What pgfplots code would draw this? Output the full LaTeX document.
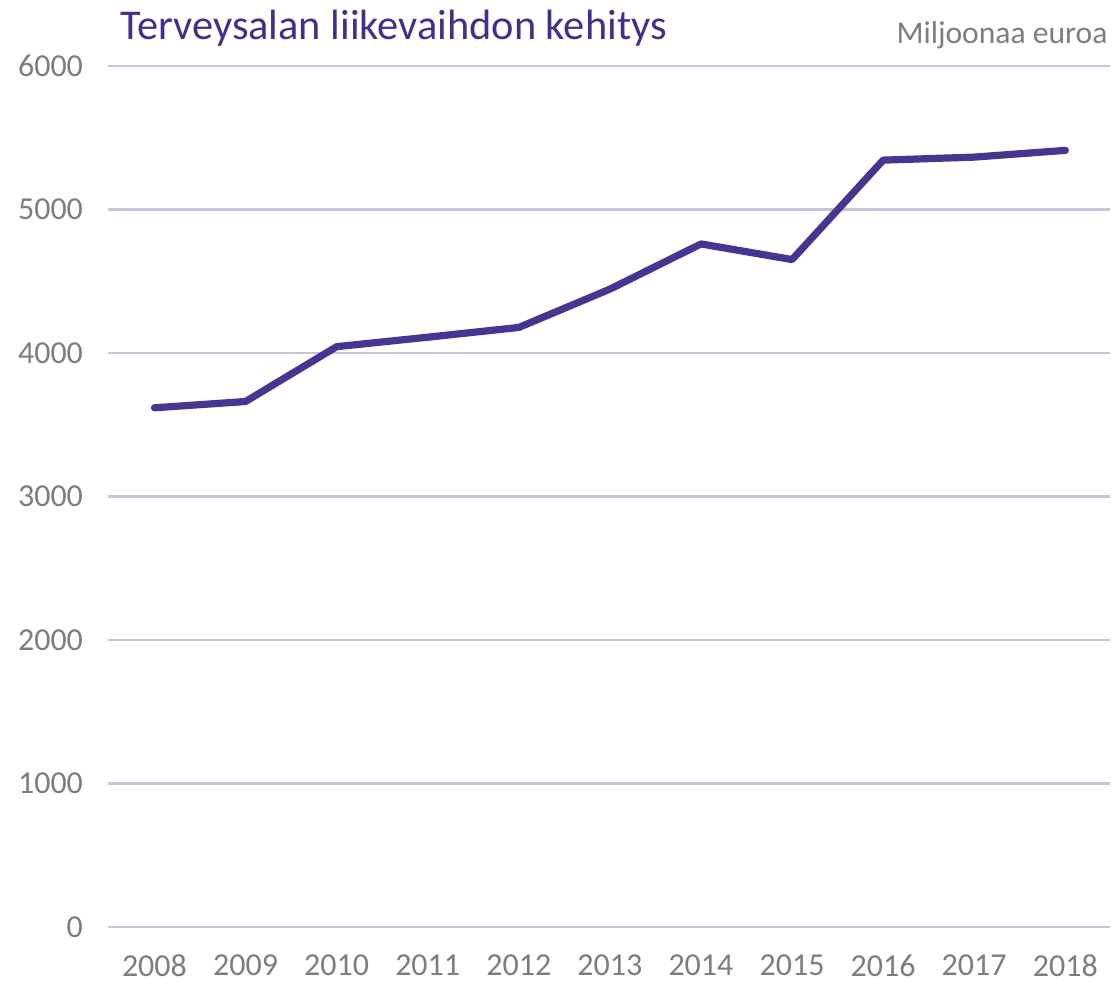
\documentclass[border=0pt]{standalone}
\usepackage{fontspec}
\setmainfont{Carlito}
\usepackage{pgfplots}
\pgfplotsset{compat=1.18}
\definecolor{linepurple}{RGB}{70,54,146}
\definecolor{titlepurple}{RGB}{64,48,140}
\definecolor{tickgray}{RGB}{125,125,125}
\definecolor{gridlav}{RGB}{198,195,218}
\begin{document}
\begin{tikzpicture}
\path[use as bounding box] (-54pt,-29pt) rectangle (503pt,463.5pt);
\begin{axis}[
  at={(0,0)}, anchor=south west,
  scale only axis,
  width=501pt, height=430.5pt,
  xmin=2007.49, xmax=2018.49,
  ymin=0, ymax=6000,
  xtick={2008,2009,...,2018},
  ytick={0,1000,...,6000},
  /pgf/number format/assume math mode=true,
  /pgf/number format/set thousands separator={},
  axis line style={draw=none},
  major tick length=0pt,
  ymajorgrids,
  grid style={gridlav, line width=1.3pt},
  tick label style={font=\fontsize{16}{18}\selectfont, text=tickgray},
  yticklabel style={xshift=-9pt},
  xticklabel style={inner sep=0pt, yshift=-13.5pt},
  clip=false,
]
\addplot[linepurple, line width=3.6pt, line cap=round, line join=round] coordinates {
  (2008,3618) (2009,3662) (2010,4044) (2011,4110) (2012,4178)
  (2013,4445) (2014,4760) (2015,4651) (2016,5344) (2017,5365) (2018,5412)
};
\node[anchor=base west, inner sep=0pt, text=titlepurple, font=\fontsize{21.2}{24}\selectfont]
  at (rel axis cs:0,1) [xshift=6pt, yshift=13pt] {Terveysalan liikevaihdon kehitys};
\node[anchor=base east, inner sep=0pt, text=tickgray, font=\fontsize{15.8}{18}\selectfont]
  at (rel axis cs:1,1) [xshift=-1pt, yshift=11pt] {Miljoonaa euroa};
\end{axis}
\end{tikzpicture}
\end{document}
